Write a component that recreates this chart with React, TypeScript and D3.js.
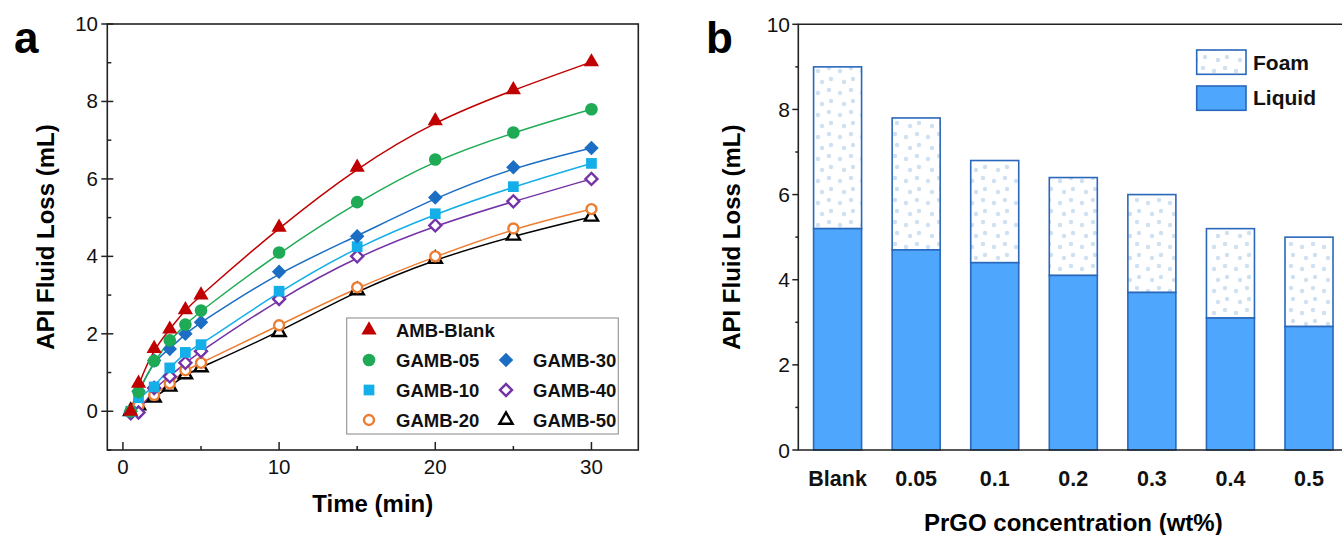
import React from "react";
import * as d3 from "d3";

// ---------- Panel a data ----------
const times = [0.5, 1, 2, 3, 4, 5, 10, 15, 20, 25, 30];
const ambBlank = [0, 0.72, 1.62, 2.12, 2.62, 3.0, 4.75, 6.3, 7.5, 8.3, 9.02];
const gamb05 = [0, 0.5, 1.3, 1.83, 2.24, 2.6, 4.1, 5.4, 6.5, 7.2, 7.8];
const gamb30 = [0, 0.52, 1.31, 1.61, 2.0, 2.3, 3.6, 4.52, 5.52, 6.3, 6.8];
const gamb10 = [0, 0.35, 0.63, 1.12, 1.52, 1.72, 3.1, 4.25, 5.1, 5.8, 6.4];
const gamb40 = [-0.05, -0.03, 0.6, 0.9, 1.25, 1.55, 2.9, 4.0, 4.8, 5.42, 6.0];
const gamb20 = [0, 0.15, 0.42, 0.72, 1.06, 1.25, 2.22, 3.2, 4.0, 4.72, 5.22];
const gamb50 = [0, 0.15, 0.35, 0.63, 0.95, 1.13, 2.04, 3.12, 3.93, 4.53, 5.02];
const seriesNames = ["AMB-Blank", "GAMB-05", "GAMB-10", "GAMB-20", "GAMB-30", "GAMB-40", "GAMB-50"];
const xTicksA = [0, 10, 20, 30];
const yTicksA = [0, 2, 4, 6, 8, 10];

// ---------- Panel b data ----------
const concentrations = ["Blank", "0.05", "0.1", "0.2", "0.3", "0.4", "0.5"];
const liquidValues = [5.2, 4.7, 4.4, 4.1, 3.7, 3.1, 2.9];
const totalValues = [9.0, 7.8, 6.8, 6.4, 6.0, 5.2, 5.0];
const yTicksB = [0, 2, 4, 6, 8, 10];

const FONT = "Arial, 'Liberation Sans', Helvetica, sans-serif";

type Style = { name: string; values: number[]; color: string; shape: string; filled: boolean };
const styles: Style[] = [
  { name: seriesNames[0], values: ambBlank, color: "#c00000", shape: "triangle", filled: true },
  { name: seriesNames[1], values: gamb05, color: "#1fab55", shape: "circle", filled: true },
  { name: seriesNames[2], values: gamb10, color: "#14aee8", shape: "square", filled: true },
  { name: seriesNames[3], values: gamb20, color: "#ed7d31", shape: "circle", filled: false },
  { name: seriesNames[4], values: gamb30, color: "#1c6dc4", shape: "diamond", filled: true },
  { name: seriesNames[5], values: gamb40, color: "#7433a6", shape: "diamond", filled: false },
  { name: seriesNames[6], values: gamb50, color: "#000000", shape: "triangle", filled: false },
];

function markerPath(shape: string, filled: boolean): string {
  if (shape === "triangle") return d3.symbol(d3.symbolTriangle, filled ? 100 : 75)() as string;
  if (shape === "circle") return d3.symbol(d3.symbolCircle, filled ? 125 : 78)() as string;
  if (shape === "square") return d3.symbol(d3.symbolSquare, 115)() as string;
  return d3.symbol(d3.symbolSquare, filled ? 105 : 72)() as string;
}

function Marker({ s, x, y }: { s: Style; x: number; y: number }) {
  const rot = s.shape === "diamond" ? 45 : 0;
  return (
    <path
      d={markerPath(s.shape, s.filled)}
      transform={`translate(${x},${y}) rotate(${rot})`}
      fill={s.filled ? s.color : "#fff"}
      stroke={s.color}
      strokeWidth={s.filled ? 0 : 2.4}
    />
  );
}

function PanelA() {
  const left = 107.3, right = 638.3, top = 24, bottom = 450;
  const x = d3.scaleLinear().domain([-1, 33]).range([left, right]);
  const y = d3.scaleLinear().domain([-1, 10]).range([bottom, top]);
  const line = d3
    .line<number>()
    .x((_, i) => x(times[i]))
    .y((v) => y(v))
    .curve(d3.curveBasis);
  const minorX = [5, 15, 25];
  const minorY = d3.range(-1, 10).filter((v) => v % 2 !== 0);
  const drawOrder = [6, 3, 5, 2, 4, 1, 0];
  const legendRows = [
    [styles[0], null],
    [styles[1], styles[4]],
    [styles[2], styles[5]],
    [styles[3], styles[6]],
  ];
  return (
    <g>
      <text x={14} y={53} fontFamily={FONT} fontWeight="bold" fontSize={44}>a</text>
      {drawOrder.map((k) => (
        <path key={"l" + k} d={line(styles[k].values) as string} fill="none" stroke={styles[k].color} strokeWidth={1.5} />
      ))}
      {drawOrder.map((k) =>
        styles[k].values.map((v, i) => <Marker key={k + "-" + i} s={styles[k]} x={x(times[i])} y={y(v)} />)
      )}
      <rect x={left} y={top} width={right - left} height={bottom - top} fill="none" stroke="#222" strokeWidth={1.6} />
      {xTicksA.map((t) => (
        <g key={"xt" + t}>
          <line x1={x(t)} x2={x(t)} y1={bottom} y2={bottom - 8} stroke="#222" strokeWidth={1.5} />
          <text x={x(t)} y={474} textAnchor="middle" fontFamily={FONT} fontSize={20.5} fill="#111">{t}</text>
        </g>
      ))}
      {minorX.map((t) => (
        <line key={"mx" + t} x1={x(t)} x2={x(t)} y1={bottom} y2={bottom - 4} stroke="#222" strokeWidth={1.5} />
      ))}
      {yTicksA.map((t) => (
        <g key={"yt" + t}>
          <line x1={left - 6} x2={left + 6} y1={y(t)} y2={y(t)} stroke="#222" strokeWidth={1.5} />
          <text x={98} y={y(t) + 7} textAnchor="end" fontFamily={FONT} fontSize={20.5} fill="#111">{t}</text>
        </g>
      ))}
      {minorY.map((t) => (
        <line key={"my" + t} x1={left} x2={left + 4} y1={y(t)} y2={y(t)} stroke="#222" strokeWidth={1.5} />
      ))}
      <text x={(left + right) / 2} y={512} textAnchor="middle" fontFamily={FONT} fontWeight="bold" fontSize={24}>Time (min)</text>
      <text transform={`translate(54,${(top + bottom) / 2}) rotate(-90)`} textAnchor="middle" fontFamily={FONT} fontWeight="bold" fontSize={24}>API Fluid Loss (mL)</text>
      {/* legend */}
      <rect x={346.7} y={318} width={271.6} height={116} fill="#fff" stroke="#999" strokeWidth={1.2} />
      {legendRows.map((row, r) =>
        row.map((s, c) =>
          s ? (
            <g key={"lg" + r + c}>
              <Marker s={s} x={c === 0 ? 369 : 506} y={330 + r * 30} />
              <text x={c === 0 ? 396 : 533} y={330 + r * 30 + 6.5} fontFamily={FONT} fontWeight="bold" fontSize={18.5} fill="#111">
                {s.name}
              </text>
            </g>
          ) : null
        )
      )}
    </g>
  );
}

function PanelB() {
  const left = 798.3, top = 24.3, bottom = 450;
  const band = d3.scaleBand<string>().domain(concentrations).range([left, left + 550]).paddingInner(0.389).paddingOuter(0.1945);
  const y = d3.scaleLinear().domain([0, 10]).range([bottom, top]);
  const liquidColor = "#4fa6fd";
  const strokeColor = "#2968bb";
  const minorY = [1, 3, 5, 7, 9];
  return (
    <g>
      <defs>
        <pattern id="foamDots" patternUnits="userSpaceOnUse" width="22" height="22">
          <rect width="22" height="22" fill="#fff" />
          <circle cx="4" cy="5" r="2.2" fill="#cfe1f1" />
          <circle cx="15" cy="2" r="2.2" fill="#cfe1f1" />
          <circle cx="17" cy="13" r="2.2" fill="#cfe1f1" />
          <circle cx="8" cy="16" r="2.2" fill="#cfe1f1" />
        </pattern>
      </defs>
      <text x={706} y={53} fontFamily={FONT} fontWeight="bold" fontSize={44}>b</text>
      {concentrations.map((c, i) => (
        <g key={c}>
          <rect x={band(c)} y={y(totalValues[i])} width={band.bandwidth()} height={y(liquidValues[i]) - y(totalValues[i])}
            fill="url(#foamDots)" stroke={strokeColor} strokeWidth={1.6} />
          <rect x={band(c)} y={y(liquidValues[i])} width={band.bandwidth()} height={bottom - y(liquidValues[i])}
            fill={liquidColor} stroke={strokeColor} strokeWidth={1.6} />
          <text x={(band(c) as number) + band.bandwidth() / 2} y={486} textAnchor="middle" fontFamily={FONT} fontWeight="bold" fontSize={21.5} fill="#111">
            {c}
          </text>
        </g>
      ))}
      <path d={`M1342,${top}H${left}V${bottom}H1342`} fill="none" stroke="#222" strokeWidth={1.6} />
      {yTicksB.map((t) => (
        <g key={"bt" + t}>
          <line x1={left - 6} x2={left} y1={y(t)} y2={y(t)} stroke="#222" strokeWidth={1.5} />
          <text x={790} y={y(t) + 7.5} textAnchor="end" fontFamily={FONT} fontSize={21} fill="#111">{t}</text>
        </g>
      ))}
      {minorY.map((t) => (
        <line key={"bm" + t} x1={left - 3} x2={left} y1={y(t)} y2={y(t)} stroke="#222" strokeWidth={1.5} />
      ))}
      <text transform={`translate(740,${(top + bottom) / 2}) rotate(-90)`} textAnchor="middle" fontFamily={FONT} fontWeight="bold" fontSize={24}>API Fluid Loss (mL)</text>
      <text x={left + 275} y={531} textAnchor="middle" fontFamily={FONT} fontWeight="bold" fontSize={24}>PrGO concentration (wt%)</text>
      {/* legend */}
      <rect x={1196.7} y={50} width={49.3} height={24.3} fill="url(#foamDots)" stroke={strokeColor} strokeWidth={1.6} />
      <text x={1253} y={70} fontFamily={FONT} fontWeight="bold" fontSize={21} fill="#111">Foam</text>
      <rect x={1196.7} y={86} width={49.3} height={24.3} fill={liquidColor} stroke={strokeColor} strokeWidth={1.6} />
      <text x={1253} y={105} fontFamily={FONT} fontWeight="bold" fontSize={21} fill="#111">Liquid</text>
    </g>
  );
}

export default function App() {
  return (
    <svg width={1342} height={535} viewBox="0 0 1342 535" style={{ position: "absolute", left: 0, top: 0, background: "#fff" }}>
      <rect width={1342} height={535} fill="#fff" />
      <PanelA />
      <PanelB />
    </svg>
  );
}
